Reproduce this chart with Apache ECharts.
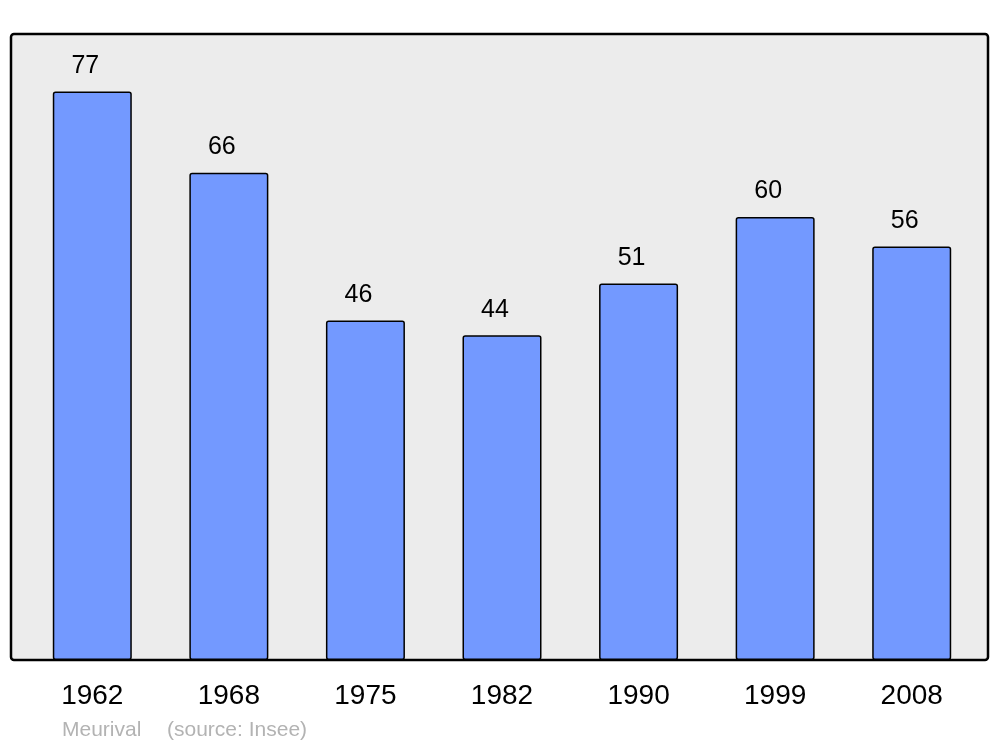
<!DOCTYPE html>
<html>
<head>
<meta charset="utf-8">
<script src="https://cdn.jsdelivr.net/npm/echarts@6/dist/echarts.min.js"></script>
<style>html,body{margin:0;padding:0;background:#fff}#c{width:1000px;height:747px}</style>
</head>
<body>
<div id="c"></div>
<script>
const categories = ['1962', '1968', '1975', '1982', '1990', '1999', '2008'];
const values = [77, 66, 46, 44, 51, 60, 56];
const footerName = 'Meurival';
const footerSource = '(source: Insee)';

const chart = echarts.init(document.getElementById('c'), null, {renderer: 'canvas'});
const FONT = '"Liberation Sans", Arial, sans-serif';
chart.setOption({
  animation: false,
  backgroundColor: '#ffffff',
  graphic: [{
    type: 'rect', z: -10, silent: true,
    shape: {x: 11, y: 34, width: 977, height: 626, r: 3},
    style: {fill: '#ececec', stroke: '#000', lineWidth: 2.5}
  }, {
    type: 'text', left: 62, top: 720, silent: true,
    style: {text: footerName, fill: '#b3b3b3', font: '21px ' + FONT}
  }, {
    type: 'text', left: 167, top: 720, silent: true,
    style: {text: footerSource, fill: '#b3b3b3', font: '21px ' + FONT}
  }],
  grid: {left: 24, right: 20, top: 34, bottom: 87, containLabel: false},
  xAxis: {
    type: 'category', data: categories,
    axisLine: {show: false}, axisTick: {show: false},
    axisLabel: {color: '#000', fontSize: 28, fontFamily: FONT, margin: 22}
  },
  yAxis: {
    type: 'value', min: 0, max: 84.8,
    show: false, splitLine: {show: false}
  },
  series: [{
    type: 'bar', data: values, barWidth: 79,
    itemStyle: {color: '#7399ff', borderColor: '#000', borderWidth: 1.5, borderRadius: 2},
    label: {show: true, position: 'top', distance: 13, offset: [-7, 0], color: '#000', fontSize: 25, fontFamily: FONT}
  }]
});
</script>
</body>
</html>
